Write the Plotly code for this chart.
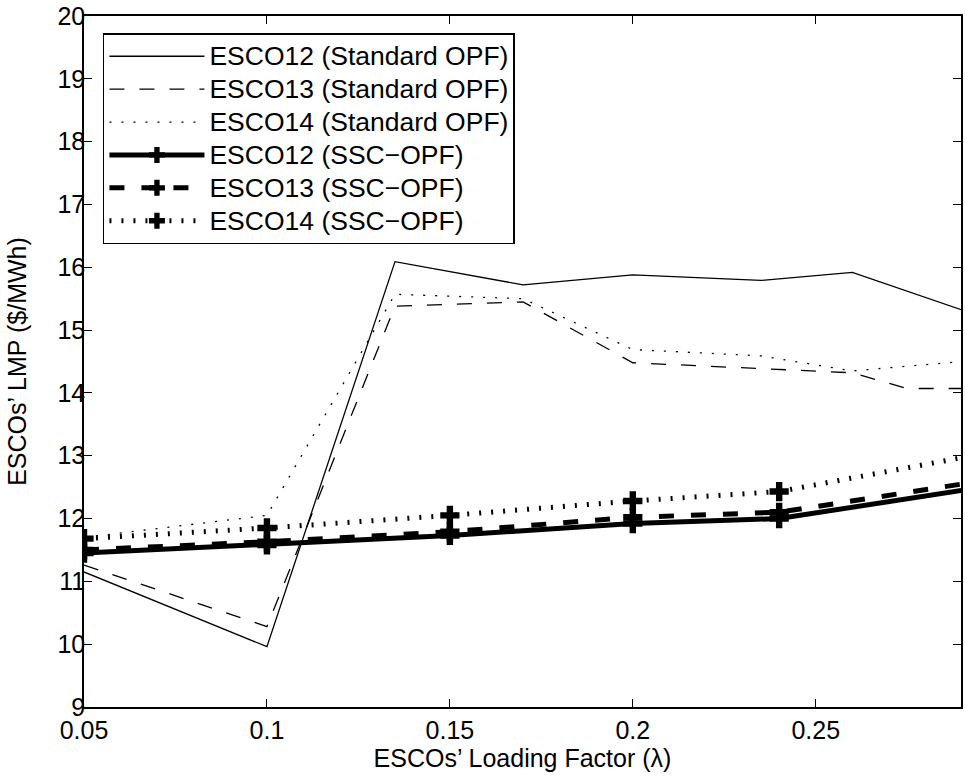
import plotly.graph_objects as go

# Standard OPF series (each has its own x samples)
std12_x = [0.05, 0.1, 0.135, 0.17, 0.2, 0.235, 0.26, 0.29]
std12_y = [11.15, 9.96, 16.09, 15.72, 15.88, 15.79, 15.92, 15.32]
std13_x = [0.05, 0.1, 0.135, 0.17, 0.2, 0.235, 0.26, 0.275, 0.29]
std13_y = [11.26, 10.28, 15.38, 15.45, 14.48, 14.38, 14.32, 14.07, 14.07]
std14_x = [0.05, 0.1, 0.135, 0.17, 0.2, 0.235, 0.26, 0.29]
std14_y = [11.70, 12.05, 15.57, 15.50, 14.69, 14.59, 14.35, 14.50]

# SSC-OPF series
ssc_x = [0.05, 0.1, 0.15, 0.2, 0.24, 0.29]
ssc12_y = [11.45, 11.58, 11.73, 11.92, 12.00, 12.45]
ssc13_y = [11.50, 11.63, 11.79, 12.02, 12.10, 12.55]
ssc14_y = [11.68, 11.85, 12.05, 12.28, 12.43, 12.97]

series_names = ["ESCO12 (Standard OPF)", "ESCO13 (Standard OPF)", "ESCO14 (Standard OPF)",
                "ESCO12 (SSC\u2212OPF)", "ESCO13 (SSC\u2212OPF)", "ESCO14 (SSC\u2212OPF)"]

x_ticks = [0.05, 0.1, 0.15, 0.2, 0.25]
x_ticklabels = ["0.05", "0.1", "0.15", "0.2", "0.25"]
y_ticks = list(range(9, 21))

FONT = "Liberation Sans, Arial, Helvetica, sans-serif"


def lname(s):
    return '<span style="font-size:26.5px">' + s + '</span>'


msizes = [16] * (len(ssc_x) - 1) + [0]
cross = dict(symbol="cross", size=msizes, color="black", opacity=1, line=dict(width=0))

fig = go.Figure()
fig.add_trace(go.Scatter(x=std12_x, y=std12_y, mode="lines", name=lname(series_names[0]),
                         line=dict(color="black", width=1.3)))
fig.add_trace(go.Scatter(x=std13_x, y=std13_y, mode="lines", name=lname(series_names[1]),
                         line=dict(color="black", width=1.3, dash="15px,15px")))
fig.add_trace(go.Scatter(x=std14_x, y=std14_y, mode="lines", name=lname(series_names[2]),
                         line=dict(color="black", width=1.3, dash="2px,10px")))
fig.add_trace(go.Scatter(x=ssc_x, y=ssc12_y, mode="lines+markers", name=lname(series_names[3]),
                         line=dict(color="black", width=5), marker=cross))
fig.add_trace(go.Scatter(x=ssc_x, y=ssc13_y, mode="lines+markers", name=lname(series_names[4]),
                         line=dict(color="black", width=5, dash="15px,17px"), marker=cross))
fig.add_trace(go.Scatter(x=ssc_x, y=ssc14_y, mode="lines+markers", name=lname(series_names[5]),
                         line=dict(color="black", width=5, dash="2px,10px"), marker=cross))

axis_common = dict(showline=True, linecolor="black", linewidth=1.5, mirror="ticks",
                   ticks="inside", ticklen=8, tickwidth=1.3, tickcolor="black",
                   showgrid=False, zeroline=False, ticklabeloverflow="allow",
                   tickfont=dict(family=FONT, size=25, color="black"))

fig.update_xaxes(range=[0.05, 0.2897], tickvals=x_ticks, ticktext=x_ticklabels,
                 title=dict(text="ESCOs\u2019 Loading Factor (\u03bb)", font=dict(family=FONT, size=25, color="black"), standoff=6),
                 **axis_common)
fig.update_yaxes(range=[9, 20], tickvals=y_ticks, ticklabelstandoff=-8,
                 title=dict(text="ESCOs\u2019 LMP ($/MWh)", font=dict(family=FONT, size=25, color="black"), standoff=24),
                 **axis_common)

fig.update_layout(
    width=965, height=778,
    margin=dict(l=84, r=2, t=11, b=71),
    paper_bgcolor="white", plot_bgcolor="white",
    font=dict(family=FONT, size=25, color="black"),
    showlegend=True,
    legend=dict(x=0.0216, y=0.975, xanchor="left", yanchor="top",
                bgcolor="white", bordercolor="black", borderwidth=1.5,
                font=dict(family=FONT, size=23, color="black"),
                itemwidth=95, tracegroupgap=0),
)

fig.write_html("out.html", config={"displayModeBar": False},
               post_script="document.body.style.margin='0';document.body.style.overflow='hidden';")
